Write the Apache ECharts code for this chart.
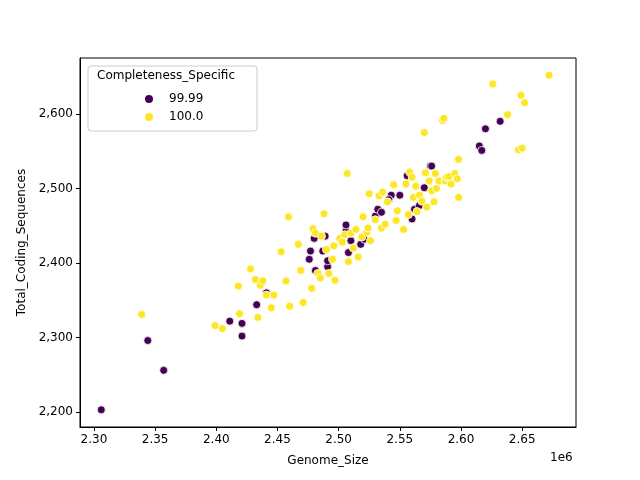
<!DOCTYPE html>
<html><head><meta charset="utf-8">
<script src="https://cdn.jsdelivr.net/npm/echarts@6/dist/echarts.min.js"></script>
<style>html,body{margin:0;padding:0;background:#fff}#c{width:640px;height:480px}</style>
</head><body><div id="c"></div>
<script>
const groupNames = ['99.99', '100.0'];
const purpleX = [2.306,2.344,2.357,2.411,2.421,2.421,2.433,2.441,2.476,2.477,2.480,2.481,2.487,2.489,2.491,2.491,2.506,2.506,2.508,2.510,2.518,2.521,2.530,2.532,2.535,2.543,2.550,2.556,2.560,2.562,2.570,2.575,2.576,2.615,2.617,2.620,2.632,2.541,2.566];
const purpleY = [2203,2296,2256,2322,2319,2302,2344,2360,2405,2416,2433,2390,2416,2436,2395,2403,2443,2451,2414,2430,2425,2432,2463,2472,2468,2491,2491,2517,2459,2472,2501,2530,2530,2557,2551,2580,2590,2485,2477];
const yellowX = [2.339,2.399,2.405,2.418,2.419,2.428,2.432,2.434,2.436,2.438,2.441,2.445,2.447,2.453,2.457,2.459,2.460,2.467,2.469,2.471,2.478,2.479,2.481,2.483,2.485,2.486,2.488,2.490,2.492,2.495,2.496,2.497,2.501,2.503,2.505,2.507,2.508,2.510,2.512,2.514,2.516,2.519,2.520,2.523,2.524,2.525,2.526,2.530,2.533,2.535,2.536,2.538,2.540,2.545,2.547,2.548,2.553,2.555,2.557,2.558,2.560,2.561,2.563,2.564,2.566,2.568,2.570,2.571,2.572,2.574,2.576,2.578,2.579,2.580,2.582,2.585,2.586,2.587,2.588,2.590,2.592,2.595,2.597,2.598,2.598,2.626,2.638,2.647,2.649,2.650,2.652,2.672];
const yellowY = [2331,2316,2312,2369,2332,2392,2378,2327,2370,2376,2357,2340,2357,2415,2376,2462,2342,2425,2390,2347,2366,2446,2440,2386,2380,2436,2466,2418,2386,2405,2423,2377,2433,2428,2438,2520,2402,2440,2420,2445,2408,2435,2462,2441,2447,2493,2430,2458,2490,2447,2495,2452,2482,2505,2457,2470,2445,2506,2465,2522,2515,2488,2503,2469,2491,2483,2575,2521,2475,2510,2497,2482,2520,2500,2510,2591,2594,2510,2515,2516,2506,2520,2513,2488,2539,2640,2599,2552,2625,2554,2615,2652];
const xTicks = [2.30,2.35,2.40,2.45,2.50,2.55,2.60,2.65];
const yTicks = [2200,2300,2400,2500,2600];
const colors = ['#440154','#fde725'];
const zip = (a,b)=>a.map((v,i)=>[v,b[i]]);
const font = 'DejaVu Sans';
const chart = echarts.init(document.getElementById('c'));
chart.setOption({
  animation:false,
  grid:{left:80,right:64,top:58,bottom:53},
  xAxis:{type:'value',min:2.2886,max:2.694,
    axisLine:{onZero:false,lineStyle:{color:'#000'}},splitLine:{show:false},
    axisTick:{customValues:xTicks,length:4,lineStyle:{color:'#000'}},
    axisLabel:{customValues:xTicks,formatter:v=>v.toFixed(2),color:'#000',fontFamily:font,fontSize:12,margin:7},
    name:'Genome_Size',nameLocation:'middle',nameGap:28,nameTextStyle:{color:'#000',fontFamily:font,fontSize:12}},
  yAxis:{type:'value',min:2180,max:2675,
    axisLine:{onZero:false,lineStyle:{color:'#000'}},splitLine:{show:false},
    axisTick:{customValues:yTicks,length:4,lineStyle:{color:'#000'}},
    axisLabel:{customValues:yTicks,color:'#000',fontFamily:font,fontSize:12,margin:7},
    name:'Total_Coding_Sequences',nameLocation:'middle',nameGap:52,nameTextStyle:{color:'#000',fontFamily:font,fontSize:12}},
  legend:{orient:'vertical',left:138,top:88,itemGap:6,itemWidth:10,itemHeight:10,
    textStyle:{fontFamily:font,fontSize:12,color:'#000',padding:[0,0,0,10]},data:groupNames},
  graphic:[
    {type:'rect',shape:{x:88,y:66,width:169,height:65,r:3},style:{fill:'rgba(255,255,255,0.8)',stroke:'#ccc'},z:-1},
    {type:'text',left:97,top:70,style:{text:'Completeness_Specific',font:'12px DejaVu Sans',fill:'#000'}},
    {type:'text',left:550,top:452,style:{text:'1e6',font:'12px DejaVu Sans',fill:'#000'}},
    {type:'rect',shape:{x:80,y:58,width:496,height:369},style:{fill:'none',stroke:'#000',lineWidth:1},z:10}
  ],
  series:[
    {name:groupNames[0],type:'scatter',symbolSize:8,data:zip(purpleX,purpleY),itemStyle:{color:colors[0],borderColor:'#fff',borderWidth:0.8,opacity:1}},
    {name:groupNames[1],type:'scatter',symbolSize:8,data:zip(yellowX,yellowY),itemStyle:{color:colors[1],borderColor:'#fff',borderWidth:0.8,opacity:1}}
  ]
});
</script></body></html>
